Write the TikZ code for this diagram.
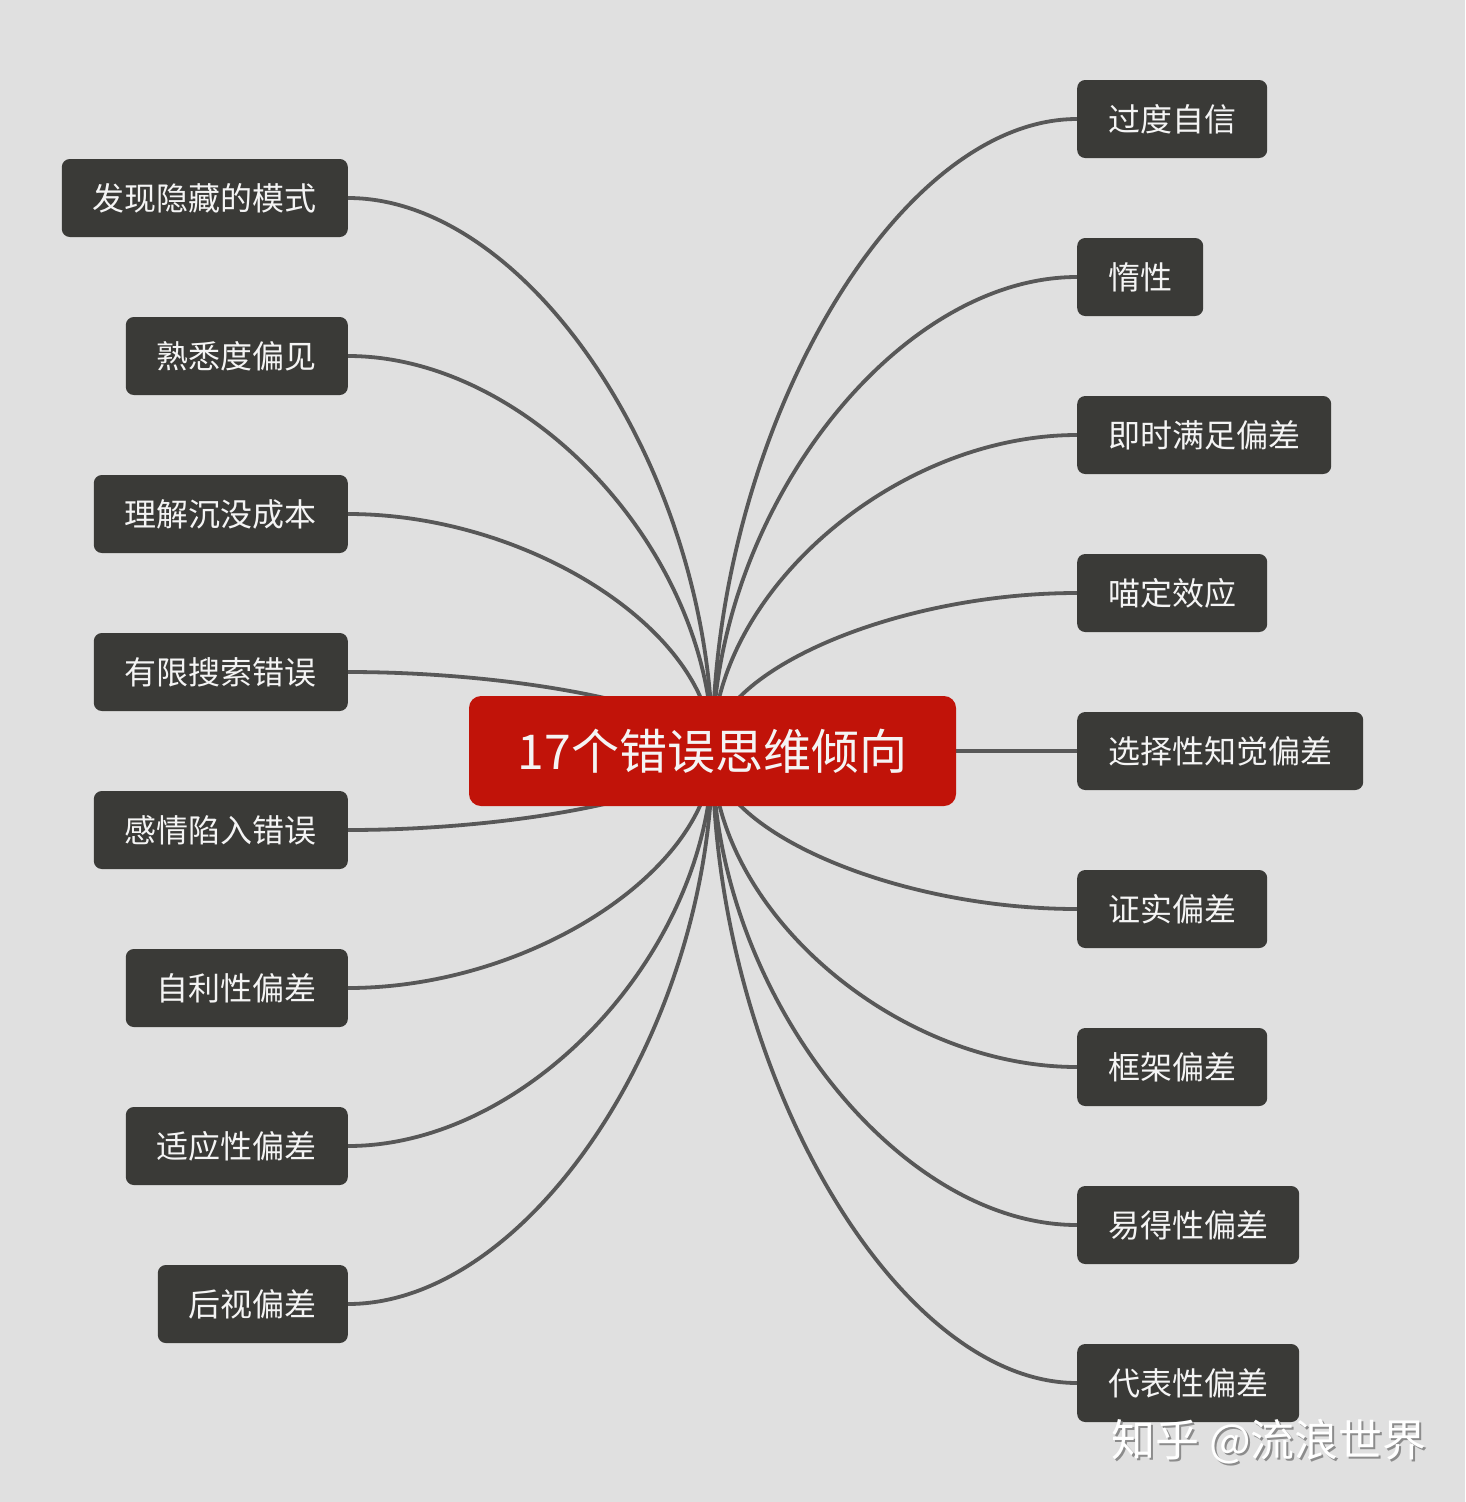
\documentclass[tikz,border=0pt]{standalone}
\usepackage{fontspec}
\newfontfamily\cjk{Noto Sans CJK SC}
\usetikzlibrary{calc}
\definecolor{bgcol}{HTML}{E0E0E0}
\definecolor{nodefill}{HTML}{3A3A37}
\definecolor{linecol}{HTML}{585858}
\definecolor{centerred}{HTML}{C11309}
\definecolor{txtcol}{HTML}{F4F4F4}
\pgfdeclarelayer{back}
\pgfdeclarelayer{bg}
\pgfsetlayers{back,bg,main}
\tikzset{
  topic/.style={fill=nodefill, rounded corners=8pt, minimum height=78pt, inner xsep=31pt, inner ysep=0pt, text=txtcol, font=\cjk\fontsize{32}{38}\selectfont},
  lefttopic/.style={topic, anchor=east},
  righttopic/.style={topic, anchor=west},
  centraltopic/.style={fill=centerred, rounded corners=12pt, minimum width=487pt, minimum height=110pt, inner sep=0pt, text=txtcol, font=\cjk\fontsize{48}{56}\selectfont},
  link/.style={draw=linecol, line width=3.8pt},
  mmcurve/.style={to path={let \p1=(\tikztostart), \p2=(\tikztotarget) in .. controls (\x1,{0.5*\y1+0.5*\y2}) and ({0.5*\x2+0.5*\x1},\y2) .. (\tikztotarget)}},
  wmark/.style={font=\cjk\fontsize{44}{50}\selectfont, inner sep=0pt}
}
\begin{document}
\begin{tikzpicture}[x=1pt,y=-1pt]
\begin{pgfonlayer}{back}
\fill[bgcol] (0,0) rectangle (1465,1502);
\end{pgfonlayer}
\useasboundingbox (0,0) rectangle (1465,1502);

\node[centraltopic] (c) at (712.5,751) {17个错误思维倾向};

\node[lefttopic] (l1) at (348,198) {发现隐藏的模式};
\node[lefttopic] (l2) at (348,356) {熟悉度偏见};
\node[lefttopic] (l3) at (348,514) {理解沉没成本};
\node[lefttopic] (l4) at (348,672) {有限搜索错误};
\node[lefttopic] (l5) at (348,830) {感情陷入错误};
\node[lefttopic] (l6) at (348,988) {自利性偏差};
\node[lefttopic] (l7) at (348,1146) {适应性偏差};
\node[lefttopic] (l8) at (348,1304) {后视偏差};

\node[righttopic] (r1) at (1077,119) {过度自信};
\node[righttopic] (r2) at (1077,277) {惰性};
\node[righttopic] (r3) at (1077,435) {即时满足偏差};
\node[righttopic] (r4) at (1077,593) {喵定效应};
\node[righttopic] (r5) at (1077,751) {选择性知觉偏差};
\node[righttopic] (r6) at (1077,909) {证实偏差};
\node[righttopic] (r7) at (1077,1067) {框架偏差};
\node[righttopic] (r8) at (1077,1225) {易得性偏差};
\node[righttopic] (r9) at (1077,1383) {代表性偏差};

\begin{pgfonlayer}{bg}
\foreach \nd in {l1,l2,l3,l4,l5,l6,l7,l8}
  \draw[link] (c.center) to[mmcurve] (\nd.east);
\foreach \nd in {r1,r2,r3,r4,r5,r6,r7,r8,r9}
  \draw[link] (c.center) to[mmcurve] (\nd.west);
\end{pgfonlayer}

\node[wmark, text=black!45] (wmshadow) at (1271,1444) {知乎 @流浪世界};
\node[wmark, text=white] (wm) at (1269,1442) {知乎 @流浪世界};
\end{tikzpicture}
\end{document}
